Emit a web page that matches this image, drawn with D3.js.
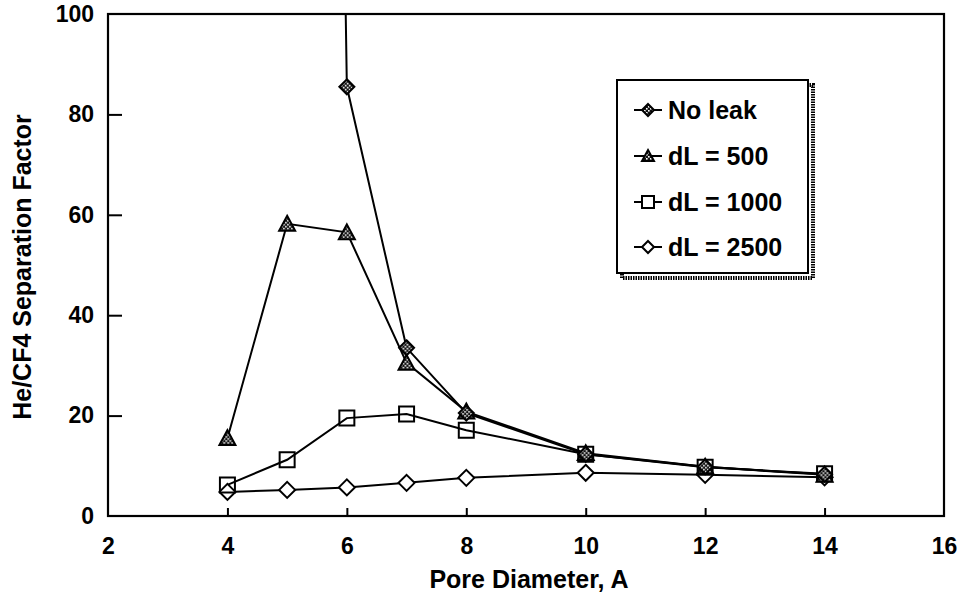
<!DOCTYPE html>
<html>
<head>
<meta charset="utf-8">
<script src="https://cdn.jsdelivr.net/npm/d3@7"></script>
<style>
  html, body { margin: 0; padding: 0; background: #fff; }
  svg { display: block; }
  text { font-family: "Liberation Sans", Arial, sans-serif; fill: #000; }
</style>
</head>
<body>
<svg id="chart" width="959" height="598"></svg>
<script>
// Pore diameter (Angstrom) sampled for each series
const poreDiameter = [4, 5, 6, 7, 8, 10, 12, 14];
const noLeakDiameter = [5, 6, 7, 8, 10, 12, 14];

// He/CF4 separation factor per series
const noLeak  = [850, 85.5, 33.5, 20.5, 12.3, 9.8, 8.3];
const dL500   = [15.5, 58.2, 56.5, 30.5, 20.8, 12.5, 9.8, 8.2];
const dL1000  = [6.2, 11.2, 19.5, 20.3, 17.1, 12.3, 9.7, 8.4];
const dL2500  = [4.8, 5.2, 5.7, 6.6, 7.6, 8.6, 8.2, 7.7];

const legendLabels = ["No leak", "dL = 500", "dL = 1000", "dL = 2500"];
const xTicks = [2, 4, 6, 8, 10, 12, 14, 16];
const yTicks = [0, 20, 40, 60, 80, 100];

const svg = d3.select("#chart");
const plotLeft = 108, plotRight = 944, plotTop = 14, plotBottom = 516;

const x = d3.scaleLinear().domain([2, 16]).range([plotLeft, plotRight]);
const y = d3.scaleLinear().domain([0, 100]).range([plotBottom, plotTop]);

// dotted fill used by the solid markers
const defs = svg.append("defs");
const pat = defs.append("pattern").attr("id", "dots")
  .attr("width", 4).attr("height", 4).attr("patternUnits", "userSpaceOnUse");
pat.append("rect").attr("width", 4).attr("height", 4).attr("fill", "#111");
pat.append("rect").attr("x", 0).attr("y", 0).attr("width", 1.6).attr("height", 1.6).attr("fill", "#fff");
pat.append("rect").attr("x", 2).attr("y", 2).attr("width", 1.6).attr("height", 1.6).attr("fill", "#fff");

defs.append("clipPath").attr("id", "plotClip")
  .append("rect").attr("x", plotLeft).attr("y", plotTop)
  .attr("width", plotRight - plotLeft).attr("height", plotBottom - plotTop);

// axes
const yAxis = d3.axisLeft(y).tickValues(yTicks).tickSize(-14).tickPadding(14).tickFormat(d3.format("d"));
const xAxis = d3.axisBottom(x).tickValues(xTicks).tickSize(-8).tickPadding(22).tickFormat(d3.format("d"));

const gy = svg.append("g").attr("transform", `translate(${plotLeft},0)`).call(yAxis);
const gx = svg.append("g").attr("transform", `translate(0,${plotBottom})`).call(xAxis);
[gx, gy].forEach(g => {
  g.select(".domain").remove();
  g.selectAll(".tick line").attr("stroke", "#000").attr("stroke-width", 2);
  g.selectAll(".tick text").style("font-size", "23px").style("font-weight", "bold")
    .style("font-family", "'Liberation Sans', Arial, sans-serif").attr("fill", "#000");
});
gx.selectAll(".tick").filter(d => d === 2 || d === 16).select("line").remove();
gy.selectAll(".tick").filter(d => d === 0 || d === 100).select("line").remove();

svg.append("rect").attr("x", plotLeft).attr("y", plotTop)
  .attr("width", plotRight - plotLeft).attr("height", plotBottom - plotTop)
  .attr("fill", "none").attr("stroke", "#000").attr("stroke-width", 2.2);

// axis titles
svg.append("text").attr("x", (plotLeft + plotRight) / 2 + 3).attr("y", 588).attr("text-anchor", "middle")
  .style("font-size", "25px").style("font-weight", "bold").text("Pore Diameter, A");
svg.append("text").attr("transform", "translate(31,267) rotate(-90)").attr("text-anchor", "middle")
  .style("font-size", "25px").style("font-weight", "bold").text("He/CF4 Separation Factor");

// marker shapes
function markerPath(kind, s) {
  const h = s / 2;
  if (kind === "diamond") return `M0,${-h}L${h},0L0,${h}L${-h},0Z`;
  if (kind === "square") return `M${-h},${-h}H${h}V${h}H${-h}Z`;
  if (kind === "triangle") return `M0,${-h}L${h},${h * 0.85}L${-h},${h * 0.85}Z`;
}

const series = [
  { xs: noLeakDiameter, ys: noLeak, kind: "diamond", fill: "url(#dots)", size: 15 },
  { xs: poreDiameter, ys: dL500, kind: "triangle", fill: "url(#dots)", size: 16 },
  { xs: poreDiameter, ys: dL1000, kind: "square", fill: "none", size: 15 },
  { xs: poreDiameter, ys: dL2500, kind: "diamond", fill: "#fff", size: 16 }
];

const line = d3.line().x(d => x(d[0])).y(d => y(d[1]));
const plot = svg.append("g").attr("clip-path", "url(#plotClip)");

// lines first, then markers on top
series.forEach(s => {
  const pts = s.xs.map((v, i) => [v, s.ys[i]]);
  plot.append("path").datum(pts).attr("d", line)
    .attr("fill", "none").attr("stroke", "#000").attr("stroke-width", 2);
});
[3, 2, 1, 0].forEach(k => {
  const s = series[k];
  const pts = s.xs.map((v, i) => [v, s.ys[i]]).filter(p => p[1] <= 100);
  plot.selectAll(null).data(pts).enter().append("path")
    .attr("transform", d => `translate(${x(d[0])},${y(d[1])})`)
    .attr("d", markerPath(s.kind, s.size))
    .attr("fill", s.fill).attr("stroke", "#000").attr("stroke-width", 2);
});

// legend
const lg = svg.append("g");
const lx = 617, ly = 80, lw = 191, lh = 193;
lg.append("rect").attr("x", lx + 5).attr("y", ly + 5).attr("width", lw).attr("height", lh)
  .attr("fill", "none").attr("stroke", "#000").attr("stroke-width", 4).attr("stroke-dasharray", "1.5,1");
lg.append("rect").attr("x", lx).attr("y", ly).attr("width", lw).attr("height", lh)
  .attr("fill", "#fff").attr("stroke", "#000").attr("stroke-width", 2);
const rowY = [110, 156, 202, 247];
legendLabels.forEach((lab, i) => {
  const s = series[i];
  const cy = rowY[i];
  lg.append("line").attr("x1", 634).attr("x2", 662).attr("y1", cy).attr("y2", cy)
    .attr("stroke", "#000").attr("stroke-width", 2);
  lg.append("path").attr("transform", `translate(648,${cy})`)
    .attr("d", markerPath(s.kind, 12))
    .attr("fill", s.fill === "none" ? "#fff" : s.fill).attr("stroke", "#000").attr("stroke-width", 2);
  lg.append("text").attr("x", 668).attr("y", cy + 9)
    .style("font-size", "25px").style("font-weight", "bold").text(lab);
});
</script>
</body>
</html>
